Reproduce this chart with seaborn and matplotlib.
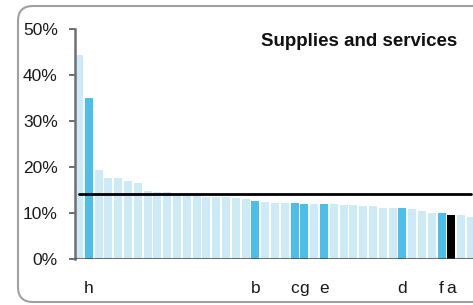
import matplotlib
matplotlib.use("Agg")
import matplotlib.pyplot as plt
import matplotlib.transforms as mtransforms
from matplotlib.patches import FancyBboxPatch
import seaborn as sns
import pandas as pd

# ---- data ----
values = [44.4, 35.0, 19.3, 17.6, 17.6, 16.9, 16.5, 14.7, 14.5, 14.5,
          13.9, 13.9, 13.8, 13.4, 13.4, 13.4, 13.2, 13.0, 12.6, 12.35,
          12.1, 12.1, 12.1, 11.9, 11.9, 11.9, 11.9, 11.7, 11.7, 11.5,
          11.5, 11.05, 11.05, 11.05, 10.8, 10.4, 9.96, 9.96, 9.5, 9.5, 9.1]
labels = ["", "h", "", "", "", "", "", "", "", "",
          "", "", "", "", "", "", "", "", "b", "",
          "", "", "c", "g", "", "e", "", "", "", "",
          "", "", "", "d", "", "", "", "f", "a", "", ""]
# group: 0 = other, 1 = highlighted, 2 = selected
groups = [0, 1, 0, 0, 0, 0, 0, 0, 0, 0,
          0, 0, 0, 0, 0, 0, 0, 0, 1, 0,
          0, 0, 1, 1, 0, 1, 0, 0, 0, 0,
          0, 0, 0, 1, 0, 0, 0, 1, 2, 0, 0]
average = 14.1
yticks = [0, 10, 20, 30, 40, 50]
title = "Supplies and services"

group_colors = {0: "#cdebf7", 1: "#4bbfea", 2: "#000000"}

sns.set_theme(style="white")
plt.rcParams["font.family"] = ["Liberation Sans", "DejaVu Sans"]

df = pd.DataFrame({"pos": list(range(len(values))),
                   "value": [v / 100 for v in values],
                   "group": groups})

fig = plt.figure(figsize=(4.73, 3.05), dpi=100)
ax = fig.add_axes([74.5 / 473, 46.3 / 305, 1 - 74.5 / 473, (258.7 - 29.3) / 305])

palette = [group_colors[g] for g in groups]
sns.barplot(data=df, x="pos", y="value", hue="pos", palette=palette,
            legend=False, width=0.82, ax=ax, linewidth=0, saturation=1)

ax.plot(df["pos"], [average / 100] * len(values), color="black", lw=2.0, zorder=5)
ax.axhline(0, color="#3a3a3a", lw=2.2, alpha=0.7, zorder=6)

ax.set_ylim(0, 0.5)
ax.set_xlim(-0.46, 40.2)
ax.set_yticks([t / 100 for t in yticks])
ax.set_yticklabels([f"{t}%" for t in yticks], fontsize=12.5, color="#1a1a1a")
ax.set_xticks(df["pos"])
ax.set_xticklabels(labels, fontsize=12.5, color="#1a1a1a")
ax.tick_params(axis="x", length=0, pad=16)
ax.tick_params(axis="y", length=4, width=1.2, color="#555555", pad=8, left=True)
ax.set_xlabel("")
ax.set_ylabel("")
for s in ["top", "right", "bottom"]:
    ax.spines[s].set_visible(False)
ax.spines["left"].set_color("#707070")
ax.spines["left"].set_linewidth(1.8)

fig.text(359 / 473, 1 - 41 / 305, title, ha="center", va="center",
         fontsize=13.5, fontweight="bold", color="#111111")

border = FancyBboxPatch((18, 3), 520, 296,
                        boxstyle="round,pad=0,rounding_size=15",
                        transform=mtransforms.IdentityTransform(),
                        facecolor="none", edgecolor="#a0a0a0", lw=1.5)
fig.patches.append(border)

fig.savefig("out.png", dpi=100)
